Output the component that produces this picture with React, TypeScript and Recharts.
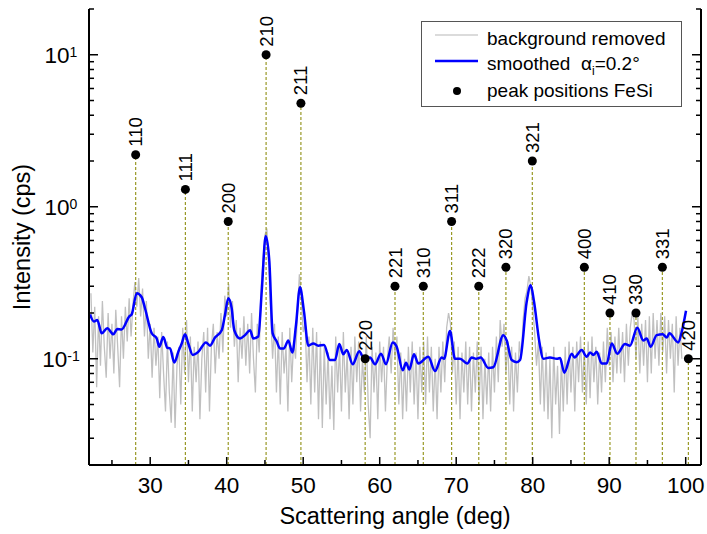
import React from 'react';
import { ComposedChart, Line, Scatter, XAxis, YAxis, ReferenceLine, Legend } from 'recharts';

const FONT = '"Liberation Sans", Arial, Helvetica, sans-serif';

// raw measurement ("background removed"), sampled every 0.25 deg from 22.25 deg
const greyStart = 22.25;
const greyStep = 0.25;
const greyValues = [
  0.27, 0.11, 0.22, 0.065,
  0.19, 0.09, 0.24, 0.12,
  0.075, 0.2, 0.1, 0.17,
  0.08, 0.21, 0.12, 0.065,
  0.19, 0.1, 0.22, 0.13,
  0.25, 0.14, 0.23, 0.32,
  0.22, 0.34, 0.19, 0.29,
  0.14, 0.24, 0.1, 0.17,
  0.075, 0.16, 0.09, 0.14,
  0.055, 0.15, 0.08, 0.045,
  0.13, 0.06, 0.038, 0.11,
  0.035, 0.09, 0.12, 0.05,
  0.16, 0.08, 0.18, 0.07,
  0.14, 0.045, 0.12, 0.07,
  0.13, 0.04, 0.1, 0.15,
  0.06, 0.16, 0.045, 0.12,
  0.17, 0.08, 0.15, 0.1,
  0.2, 0.11, 0.26, 0.19,
  0.31, 0.16, 0.24, 0.12,
  0.18, 0.07, 0.16, 0.1,
  0.19, 0.09, 0.17, 0.08,
  0.2, 0.1, 0.06, 0.17,
  0.11, 0.3, 0.45, 0.65,
  0.72, 0.4, 0.2, 0.1,
  0.17, 0.06, 0.14, 0.05,
  0.15, 0.08, 0.12, 0.045,
  0.16, 0.07, 0.13, 0.1,
  0.2, 0.36, 0.26, 0.15,
  0.17, 0.07, 0.14, 0.05,
  0.16, 0.06, 0.15, 0.04,
  0.13, 0.035, 0.12, 0.05,
  0.11, 0.04, 0.09, 0.034,
  0.14, 0.06, 0.12, 0.045,
  0.15, 0.06, 0.11, 0.04,
  0.12, 0.05, 0.14, 0.07,
  0.13, 0.045, 0.1, 0.06,
  0.14, 0.05, 0.03, 0.12,
  0.06, 0.11, 0.04, 0.13,
  0.07, 0.12, 0.045, 0.1,
  0.14, 0.08, 0.16, 0.1,
  0.14, 0.05, 0.11, 0.04,
  0.1, 0.045, 0.12, 0.06,
  0.13, 0.05, 0.11, 0.04,
  0.12, 0.06, 0.13, 0.05,
  0.14, 0.06, 0.12, 0.045,
  0.1, 0.04, 0.12, 0.06,
  0.13, 0.07, 0.16, 0.2,
  0.17, 0.08, 0.13, 0.05,
  0.12, 0.04, 0.11, 0.06,
  0.13, 0.05, 0.12, 0.045,
  0.11, 0.06, 0.13, 0.05,
  0.12, 0.04, 0.1, 0.05,
  0.11, 0.045, 0.12, 0.06,
  0.14, 0.07, 0.18, 0.12,
  0.17, 0.08, 0.13, 0.05,
  0.12, 0.045, 0.11, 0.06,
  0.13, 0.1, 0.18, 0.25,
  0.28, 0.35, 0.3, 0.22,
  0.15, 0.09, 0.13, 0.05,
  0.12, 0.045, 0.11, 0.04,
  0.1, 0.03, 0.12, 0.05,
  0.09, 0.032, 0.1, 0.045,
  0.12, 0.05, 0.13, 0.06,
  0.12, 0.045, 0.13, 0.07,
  0.14, 0.06, 0.12, 0.05,
  0.13, 0.055, 0.14, 0.07,
  0.12, 0.05, 0.11, 0.06,
  0.13, 0.07, 0.16, 0.09,
  0.15, 0.07, 0.14, 0.08,
  0.16, 0.08, 0.15, 0.07,
  0.17, 0.09, 0.16, 0.2,
  0.18, 0.1, 0.19, 0.08,
  0.17, 0.09, 0.18, 0.07,
  0.19, 0.08, 0.2, 0.1,
  0.18, 0.09, 0.2, 0.11,
  0.19, 0.08, 0.18, 0.1,
  0.17, 0.06, 0.19, 0.09,
  0.16, 0.1,
];

// smoothed curve
const smoothAngles = [
  22.13, 22.65, 23.08, 23.66, 24.39, 25.18, 25.7, 26.27, 27.27, 27.58, 28.24, 28.89, 29.32,
  30.2, 30.85, 31.19, 31.71, 32.24, 32.59, 33.15, 33.67, 34.12, 34.55, 34.98, 35.56, 36.29,
  37.29, 37.82, 38.47, 39.35, 39.78, 40.21, 40.65, 40.99, 41.74, 42.39, 43.05, 43.48, 44.13,
  44.58, 45.1, 45.57, 46.01, 46.54, 46.97, 47.49, 48.05, 48.58, 49.06, 49.58, 50.1, 50.67,
  51.32, 51.97, 52.72, 53.5, 54.16, 54.72, 55.24, 55.69, 56.47, 57.33, 57.95, 58.73, 59.39,
  60.17, 60.82, 61.7, 62.22, 63.01, 63.44, 63.87, 64.48, 65.05, 66.35, 67.23, 68.1, 68.41,
  69.19, 69.84, 70.5, 71.45, 72.03, 72.59, 73.2, 74.2, 74.85, 76.16, 76.6, 77.25, 77.91,
  78.34, 79.22, 79.74, 80.17, 80.86, 81.39, 82.26, 83.14, 83.57, 84.13, 85.1, 85.46, 86.41,
  87.06, 87.5, 87.92, 88.37, 89.02, 89.67, 90.33, 91.06, 92.07, 92.72, 93.67, 94.46, 94.9,
  95.42, 96.21, 96.99, 97.52, 97.86, 99.03, 99.48, 100.04,
];
const smoothValues = [
  0.196, 0.176, 0.18, 0.147, 0.159, 0.145, 0.157, 0.156, 0.19, 0.196, 0.27, 0.254, 0.215,
  0.147, 0.136, 0.12, 0.139, 0.118, 0.117, 0.0945, 0.111, 0.126, 0.145, 0.126, 0.106, 0.111,
  0.128, 0.122, 0.138, 0.154, 0.195, 0.25, 0.215, 0.154, 0.136, 0.143, 0.154, 0.136, 0.14,
  0.278, 0.643, 0.44, 0.147, 0.13, 0.117, 0.117, 0.132, 0.11, 0.167, 0.295, 0.205, 0.122,
  0.126, 0.122, 0.123, 0.098, 0.098, 0.125, 0.107, 0.114, 0.092, 0.112, 0.1, 0.102, 0.092,
  0.108, 0.092, 0.128, 0.12, 0.084, 0.094, 0.085, 0.107, 0.093, 0.103, 0.083, 0.102, 0.1,
  0.152, 0.1, 0.1, 0.093, 0.102, 0.1, 0.102, 0.087, 0.088, 0.143, 0.132, 0.098, 0.095,
  0.098, 0.238, 0.304, 0.238, 0.13, 0.1, 0.102, 0.1, 0.101, 0.081, 0.108, 0.102, 0.114,
  0.103, 0.11, 0.106, 0.111, 0.093, 0.093, 0.126, 0.108, 0.125, 0.122, 0.16, 0.132, 0.136,
  0.12, 0.143, 0.145, 0.138, 0.147, 0.128, 0.15, 0.207,
];

// FeSi peak positions
const peakAngles = [28.1, 34.6, 40.2, 45.15, 49.7, 58.1, 62.0, 65.7, 69.4, 72.95, 76.5, 79.95, 86.75, 90.1, 93.5, 96.95, 100.35];
const peakIntensities = [2.2, 1.3, 0.8, 10, 4.8, 0.1, 0.3, 0.3, 0.8, 0.3, 0.4, 2.0, 0.4, 0.2, 0.2, 0.4, 0.1];
const peakLabels = ['110', '111', '200', '210', '211', '220', '221', '310', '311', '222', '320', '321', '400', '410', '330', '331', '420'];

const xTicks = [25, 30, 35, 40, 45, 50, 55, 60, 65, 70, 75, 80, 85, 90, 95, 100];
const yTicks = [
  0.02, 0.03, 0.04, 0.05, 0.06, 0.07, 0.08, 0.09,
  0.1, 0.2, 0.3, 0.4, 0.5, 0.6, 0.7, 0.8, 0.9,
  1, 2, 3, 4, 5, 6, 7, 8, 9, 10, 20,
];
const X_DOMAIN = [22, 102];
const Y_DOMAIN = [0.02, 20];

const greyData = greyValues.map((v, i) => ({ x: greyStart + i * greyStep, y: v }));
const smoothData = smoothAngles.map((a, i) => ({ x: a, y: smoothValues[i] }));
const peakData = peakAngles.map((a, i) => ({ x: a, y: peakIntensities[i], label: peakLabels[i] }));

const DROP = '#999926';

const isMajorY = (v: number) => {
  const l = Math.log10(v);
  return Math.abs(l - Math.round(l)) < 1e-6;
};

const YTickLeft = (props: any) => {
  const { x, y, payload } = props;
  const v = payload.value;
  const major = isMajorY(v);
  return (
    <g>
      <line x1={x} y1={y} x2={x + (major ? 9 : 5)} y2={y} stroke="#000" strokeWidth={1.5} />
      {major && v < 15 && (
        <text x={x - 28} y={y + 8} textAnchor="middle" fontFamily={FONT} fontSize={22.5} fill="#000">
          10
          <tspan dy={-6} fontSize={14}>{String(Math.round(Math.log10(v)))}</tspan>
        </text>
      )}
    </g>
  );
};

const YTickRight = (props: any) => {
  const { x, y, payload } = props;
  const major = isMajorY(payload.value);
  return <line x1={x} y1={y} x2={x - (major ? 9 : 5)} y2={y} stroke="#000" strokeWidth={1.5} />;
};

const XTickBottom = (props: any) => {
  const { x, y, payload } = props;
  const major = payload.value % 10 === 0;
  return (
    <g>
      <line x1={x} y1={y} x2={x} y2={y - (major ? 8 : 5)} stroke="#000" strokeWidth={1.5} />
      {major && (
        <text x={x} y={y + 28} textAnchor="middle" fontFamily={FONT} fontSize={22.5} fill="#000">
          {payload.value}
        </text>
      )}
    </g>
  );
};

const XTickTop = (props: any) => {
  const { x, y, payload } = props;
  const major = payload.value % 10 === 0;
  return <line x1={x} y1={y} x2={x} y2={y + (major ? 8 : 5)} stroke="#000" strokeWidth={1.5} />;
};

const PeakShape = (props: any) => {
  const { cx, cy, payload } = props;
  if (cx == null || cy == null) return null;
  return (
    <g>
      <circle cx={cx} cy={cy} r={4.5} fill="#000" />
      <text
        transform={`translate(${cx + 6.5},${cy - 8}) rotate(-90)`}
        fontFamily={FONT}
        fontSize={18.5}
        fill="#000"
      >
        {payload.label}
      </text>
    </g>
  );
};

const LegendBox = () => (
  <svg width={262} height={87} style={{ display: 'block' }}>
    <rect x={0.5} y={0.5} width={260} height={85} fill="#fff" stroke="#555" strokeWidth={1} />
    <line x1={14} y1={14} x2={57} y2={14} stroke="#b8b8b8" strokeWidth={1.2} />
    <text x={66} y={24} fontFamily={FONT} fontSize={19} fill="#000">background removed</text>
    <line x1={14} y1={40} x2={57} y2={40} stroke="#0000ff" strokeWidth={2.5} />
    <text x={66} y={49} fontFamily={FONT} fontSize={19} fill="#000">smoothed</text>
    <text x={160} y={49} fontFamily={FONT} fontSize={19} fill="#000">
      α<tspan dy={5} fontSize={12}>i</tspan><tspan dy={-5}>=0.2°</tspan>
    </text>
    <circle cx={36} cy={70} r={4} fill="#000" />
    <text x={66} y={76} fontFamily={FONT} fontSize={19} fill="#000">peak positions FeSi</text>
  </svg>
);

const XTitle = (props: any) => {
  const vb = props.viewBox || {};
  return (
    <text x={vb.x + vb.width / 2} y={vb.y + 59} textAnchor="middle" fontFamily={FONT} fontSize={23.5} fill="#000">
      Scattering angle (deg)
    </text>
  );
};

const YTitle = (props: any) => {
  const vb = props.viewBox || {};
  const cx = vb.x + 1;
  const cy = vb.y + vb.height / 2;
  return (
    <text
      x={cx}
      y={cy}
      transform={`rotate(-90, ${cx}, ${cy})`}
      textAnchor="middle"
      fontFamily={FONT}
      fontSize={23.5}
      fill="#000"
    >
      Intensity (cps)
    </text>
  );
};

export default function App() {
  return (
    <div style={{ position: 'absolute', left: 0, top: 0, background: '#fff' }}>
      <ComposedChart width={707} height={534} margin={{ top: 9, right: 0, bottom: 9, left: 29 }}>
        <XAxis
          xAxisId="b"
          dataKey="x"
          type="number"
          domain={X_DOMAIN}
          allowDataOverflow
          ticks={xTicks}
          interval={0}
          height={60}
          tickSize={0}
          tickMargin={0}
          tickLine={false}
          tick={<XTickBottom />}
          axisLine={{ stroke: '#000', strokeWidth: 2 }}
          label={<XTitle />}
        />
        <XAxis
          xAxisId="t"
          orientation="top"
          dataKey="x"
          type="number"
          domain={X_DOMAIN}
          allowDataOverflow
          ticks={xTicks}
          interval={0}
          height={0}
          tickSize={0}
          tickMargin={0}
          tickLine={false}
          tick={<XTickTop />}
          axisLine={{ stroke: '#000', strokeWidth: 1.5 }}
        />
        <YAxis
          yAxisId="l"
          type="number"
          scale="log"
          domain={Y_DOMAIN}
          allowDataOverflow
          ticks={yTicks}
          interval={0}
          width={60}
          tickSize={0}
          tickMargin={0}
          tickLine={false}
          tick={<YTickLeft />}
          axisLine={{ stroke: '#000', strokeWidth: 2 }}
          label={<YTitle />}
        />
        <YAxis
          yAxisId="r"
          orientation="right"
          type="number"
          scale="log"
          domain={Y_DOMAIN}
          allowDataOverflow
          ticks={yTicks}
          interval={0}
          width={6}
          tickSize={0}
          tickMargin={0}
          tickLine={false}
          tick={<YTickRight />}
          axisLine={{ stroke: '#000', strokeWidth: 2 }}
        />
        <Line
          xAxisId="b"
          yAxisId="l"
          data={greyData}
          dataKey="y"
          type="linear"
          stroke="#c0c0c0"
          strokeWidth={1.3}
          dot={false}
          activeDot={false}
          isAnimationActive={false}
        />
        {peakData.map((p) => (
          <ReferenceLine
            key={p.label}
            xAxisId="b"
            yAxisId="l"
            segment={[{ x: p.x, y: Y_DOMAIN[0] }, { x: p.x, y: p.y }]}
            stroke={DROP}
            strokeWidth={1.2}
            strokeDasharray="3 2"
          />
        ))}
        <Line
          xAxisId="b"
          yAxisId="l"
          data={smoothData}
          dataKey="y"
          type="monotone"
          stroke="#0000ff"
          strokeWidth={2.5}
          dot={false}
          activeDot={false}
          isAnimationActive={false}
        />
        <Scatter
          xAxisId="b"
          yAxisId="l"
          data={peakData}
          dataKey="y"
          shape={<PeakShape />}
          isAnimationActive={false}
        />
        <Legend
          layout="vertical"
          align="center"
          verticalAlign="middle"
          content={<LegendBox />}
          wrapperStyle={{ position: 'absolute', left: 421, top: 21, width: 262, height: 87, margin: 0 }}
        />
      </ComposedChart>
    </div>
  );
}
